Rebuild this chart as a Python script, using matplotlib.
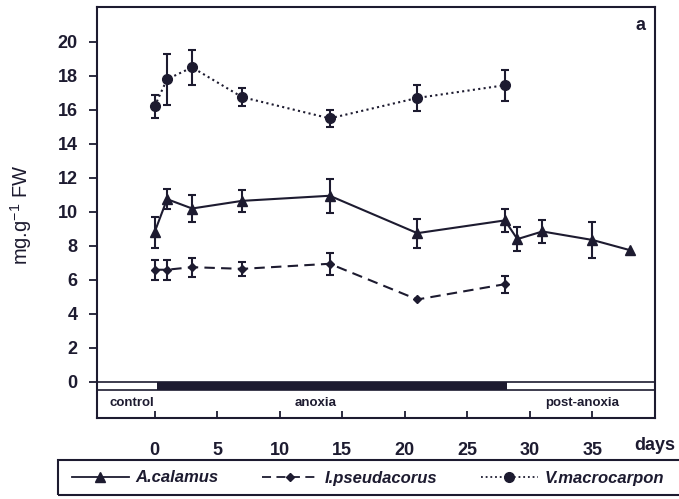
import numpy as np
import matplotlib.pyplot as plt
from matplotlib.lines import Line2D
from matplotlib.patches import Rectangle

plt.rcParams['font.family'] = ['Liberation Sans', 'DejaVu Sans']
plt.rcParams['mathtext.fontset'] = 'custom'
plt.rcParams['mathtext.rm'] = 'Liberation Sans'

# sugar content, mg per g fresh weight (mean +/- SE)
days_ac = [0, 1, 3, 7, 14, 21, 28, 29, 31, 35, 38]
ac_mean = [8.8, 10.75, 10.2, 10.65, 10.95, 8.75, 9.5, 8.4, 8.85, 8.35, 7.75]
ac_err = [0.9, 0.6, 0.8, 0.65, 1.0, 0.85, 0.7, 0.7, 0.65, 1.05, 0.0]

days_ip = [0, 1, 3, 7, 14, 21, 28]
ip_mean = [6.6, 6.6, 6.75, 6.65, 6.95, 4.85, 5.75]
ip_err = [0.6, 0.6, 0.55, 0.4, 0.65, 0.0, 0.5]

days_vm = [0, 1, 3, 7, 14, 21, 28]
vm_mean = [16.2, 17.8, 18.5, 16.75, 15.5, 16.7, 17.45]
vm_err = [0.65, 1.5, 1.05, 0.55, 0.5, 0.75, 0.9]

species = ['A.calamus', 'I.pseudacorus', 'V.macrocarpon']
anoxia_start, anoxia_end = 0.2, 28.2

ink = '#1d1b30'

fig = plt.figure(figsize=(6.79, 4.99), dpi=100)
ax = fig.add_axes([97/679, 1 - 418/499, 558/679, 411/499])

styles = [
    (days_ac, ac_mean, ac_err, '-', '^', 7),
    (days_ip, ip_mean, ip_err, (0, (5, 3)), 'D', 4.5),
    (days_vm, vm_mean, vm_err, (0, (1, 1.6)), 'o', 7),
]
handles = []
for x, y, e, ls, mk, ms in styles:
    x, y, e = np.array(x), np.array(y), np.array(e)
    ax.plot(x, y, color=ink, lw=1.5, ls=ls, marker=mk, ms=ms, zorder=3)
    keep = e > 0
    ax.errorbar(x[keep], y[keep], yerr=e[keep], fmt='none', ecolor=ink,
                elinewidth=1.5, capsize=3, capthick=1.5, zorder=3)
    handles.append(Line2D([], [], color=ink, lw=1.3, ls=ls, marker=mk, ms=ms))

# treatment band under the zero line
ax.axhline(0, color=ink, lw=1.2)
ax.axhline(-0.45, color=ink, lw=1.2)
ax.add_patch(Rectangle((anoxia_start, -0.45), anoxia_end - anoxia_start, 0.45,
                       color=ink, lw=0))
band_font = dict(fontsize=9.5, fontweight='bold', color=ink, ha='center', va='center')
ax.text(-1.8, -1.25, 'control', **band_font)
ax.text(12.9, -1.25, 'anoxia', **band_font)
ax.text(34.2, -1.25, 'post-anoxia', **band_font)

ax.set_xlim(-4.6, 40)
ax.set_ylim(-2.12, 22.05)
ax.set_yticks(range(0, 21, 2))
ax.set_xticks(range(0, 36, 5))
for s in ax.spines.values():
    s.set_linewidth(1.5)
    s.set_color(ink)
ax.tick_params(axis='y', direction='out', length=6, width=1.3, pad=8,
               labelsize=13, colors=ink)
ax.tick_params(axis='x', direction='in', length=5, width=1.3, pad=17,
               labelsize=13, colors=ink)
for lbl in ax.get_xticklabels() + ax.get_yticklabels():
    lbl.set_fontweight('bold')

fig.text(21/679, 1 - 215/499, 'mg.g$^{-1}$ FW', rotation=90, fontsize=14.5,
         ha='center', va='center', color=ink)
fig.text(655/679, 1 - 445/499, 'days', fontsize=13, fontweight='bold',
         ha='center', va='center', color=ink)
fig.text(641/679, 1 - 25/499, 'a', fontsize=13, fontweight='bold',
         ha='center', va='center', color=ink)

# legend strip along the bottom
fig.add_artist(Rectangle((58/679, 4/499), 0.95, 35/499, transform=fig.transFigure,
                         fill=False, lw=1.5, edgecolor=ink))
fig.legend(handles, species, loc='center', bbox_to_anchor=(368/679, 1 - 478/499),
           ncol=3, frameon=False, handlelength=3.4, handletextpad=0.4,
           columnspacing=2.6, prop=dict(size=12, weight='bold', style='italic'),
           labelcolor=ink)

fig.savefig('out.png', dpi=100)
